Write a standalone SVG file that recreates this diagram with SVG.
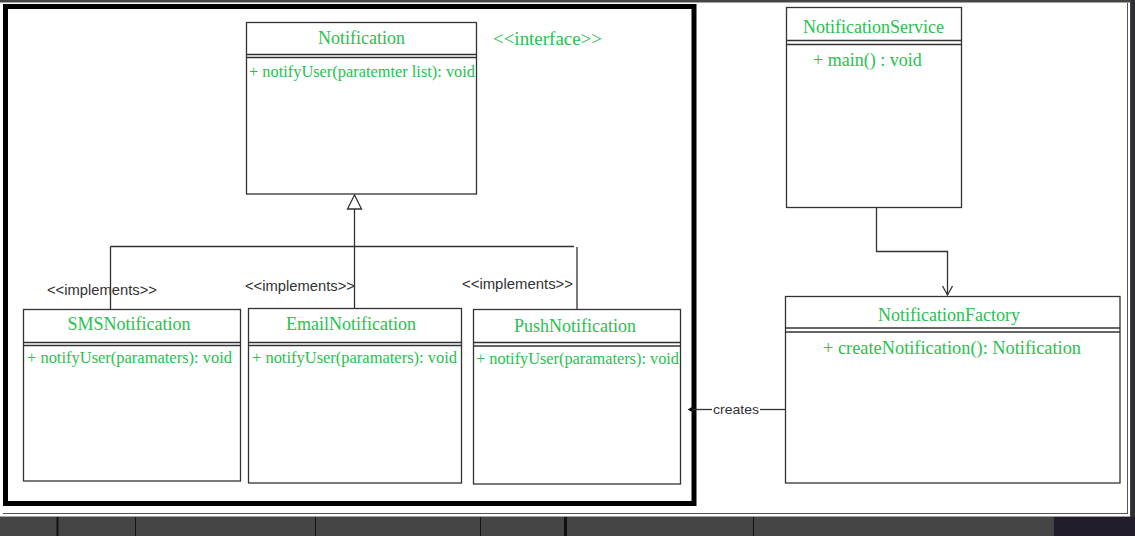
<svg xmlns="http://www.w3.org/2000/svg" width="1135" height="536" viewBox="0 0 1135 536">
<style>
.box{fill:#fff;stroke:#333;stroke-width:1.3}
.div{stroke:#333;stroke-width:1.3;fill:none}
.t{font-family:"Liberation Serif","Times New Roman",serif;fill:#27c14f}
.title{font-size:18px;text-anchor:middle}
.m{font-size:16px}
.lbl{font-family:"Liberation Sans",Arial,sans-serif;fill:#333;font-size:14px}
.ln{stroke:#333;stroke-width:1.3;fill:none}
</style>
<g id="background">
<rect x="0" y="0" width="1135" height="536" fill="#454545"/>
<rect x="1131" y="0" width="4" height="536" fill="#2e2e33"/>
<rect x="1054" y="517" width="81" height="19" fill="#231c2b"/>
<rect x="0" y="2.5" width="1130" height="514" fill="#fff"/>
<line x1="3" y1="513.5" x2="1128" y2="513.5" stroke="#555" stroke-width="1"/>
<line x1="1127.5" y1="3" x2="1127.5" y2="514" stroke="#555" stroke-width="1"/>
<g stroke="#111">
<line x1="57.5" y1="517" x2="57.5" y2="536" stroke-width="2"/>
<line x1="135.5" y1="517" x2="135.5" y2="536" stroke-width="1"/>
<line x1="315.5" y1="517" x2="315.5" y2="536" stroke-width="1"/>
<line x1="480.5" y1="517" x2="480.5" y2="536" stroke-width="1"/>
<line x1="565.5" y1="517" x2="565.5" y2="536" stroke-width="3"/>
<line x1="753.5" y1="517" x2="753.5" y2="536" stroke-width="1"/>
</g>
<rect x="5.5" y="6.5" width="688.5" height="497" fill="none" stroke="#000" stroke-width="5"/>
</g>
<g id="connectors">
<polygon points="354.5,195 347.5,209 361.5,209" fill="#fff" stroke="#333" stroke-width="1.3"/>
<line class="ln" x1="354.5" y1="209" x2="354.5" y2="308.5"/>
<line class="ln" x1="110.5" y1="246.5" x2="574" y2="246.5"/>
<line class="ln" x1="110.5" y1="246.5" x2="110.5" y2="309.5"/>
<line class="ln" x1="577" y1="247" x2="577" y2="309.5"/>
<polyline class="ln" points="876.5,207.5 876.5,251.5 947.5,251.5 947.5,295"/>
<path class="ln" d="M942.5,286 L947.5,295 L952.5,286"/>
<line class="ln" x1="785" y1="409.5" x2="760" y2="409.5"/>
<line class="ln" x1="712" y1="409.5" x2="692" y2="409.5"/>
<polygon points="687.5,409.5 693,406.5 693,412.5" fill="#111"/>
<text class="lbl" x="47" y="295" textLength="110" lengthAdjust="spacingAndGlyphs">&lt;&lt;implements&gt;&gt;</text>
<text class="lbl" x="245" y="291" textLength="110" lengthAdjust="spacingAndGlyphs">&lt;&lt;implements&gt;&gt;</text>
<text class="lbl" x="462" y="289" textLength="111" lengthAdjust="spacingAndGlyphs">&lt;&lt;implements&gt;&gt;</text>
<text class="lbl" x="713" y="414" style="font-size:13px" textLength="46" lengthAdjust="spacingAndGlyphs">creates</text>
</g>
<g id="Notification">
<rect class="box" x="246.5" y="22.5" width="230" height="171.5"/>
<line class="div" x1="246.5" y1="54.5" x2="476.5" y2="54.5"/>
<line class="div" x1="246.5" y1="57.5" x2="476.5" y2="57.5"/>
<text class="t title" x="361.5" y="44">Notification</text>
<text class="t m" x="249" y="77" textLength="226" lengthAdjust="spacingAndGlyphs">+ notifyUser(paratemter list): void</text>
<text class="t" x="493" y="45" style="font-size:18px" textLength="109" lengthAdjust="spacingAndGlyphs">&lt;&lt;interface&gt;&gt;</text>
</g>
<g id="SMSNotification">
<rect class="box" x="23.5" y="309.5" width="217" height="171.5"/>
<line class="div" x1="23.5" y1="342.5" x2="240.5" y2="342.5"/>
<line class="div" x1="23.5" y1="345.5" x2="240.5" y2="345.5"/>
<text class="t title" x="129" y="330">SMSNotification</text>
<text class="t m" x="27" y="363" textLength="205" lengthAdjust="spacingAndGlyphs">+ notifyUser(paramaters): void</text>
</g>
<g id="EmailNotification">
<rect class="box" x="248.5" y="308.5" width="213" height="174.5"/>
<line class="div" x1="248.5" y1="342.5" x2="461.5" y2="342.5"/>
<line class="div" x1="248.5" y1="345.5" x2="461.5" y2="345.5"/>
<text class="t title" x="351" y="330">EmailNotification</text>
<text class="t m" x="252" y="363" textLength="205" lengthAdjust="spacingAndGlyphs">+ notifyUser(paramaters): void</text>
</g>
<g id="PushNotification">
<rect class="box" x="473.5" y="309.5" width="207" height="174.5"/>
<line class="div" x1="473.5" y1="342.5" x2="680.5" y2="342.5"/>
<line class="div" x1="473.5" y1="346" x2="680.5" y2="346"/>
<text class="t title" x="575" y="332">PushNotification</text>
<text class="t m" x="476" y="364" textLength="203" lengthAdjust="spacingAndGlyphs">+ notifyUser(paramaters): void</text>
</g>
<g id="NotificationService">
<rect class="box" x="786.5" y="7.5" width="175" height="200"/>
<line class="div" x1="786.5" y1="40.5" x2="961.5" y2="40.5"/>
<line class="div" x1="786.5" y1="44.5" x2="961.5" y2="44.5"/>
<text class="t title" x="873.5" y="33">NotificationService</text>
<text class="t" x="813" y="66" style="font-size:18px">+ main() : void</text>
</g>
<g id="NotificationFactory">
<rect class="box" x="785.5" y="296.5" width="334.5" height="186.5"/>
<line class="div" x1="785.5" y1="328" x2="1120" y2="328"/>
<line class="div" x1="785.5" y1="332" x2="1120" y2="332"/>
<text class="t title" x="949" y="321">NotificationFactory</text>
<text class="t" x="823" y="354" style="font-size:18px" textLength="258" lengthAdjust="spacingAndGlyphs">+ createNotification(): Notification</text>
</g>
</svg>
